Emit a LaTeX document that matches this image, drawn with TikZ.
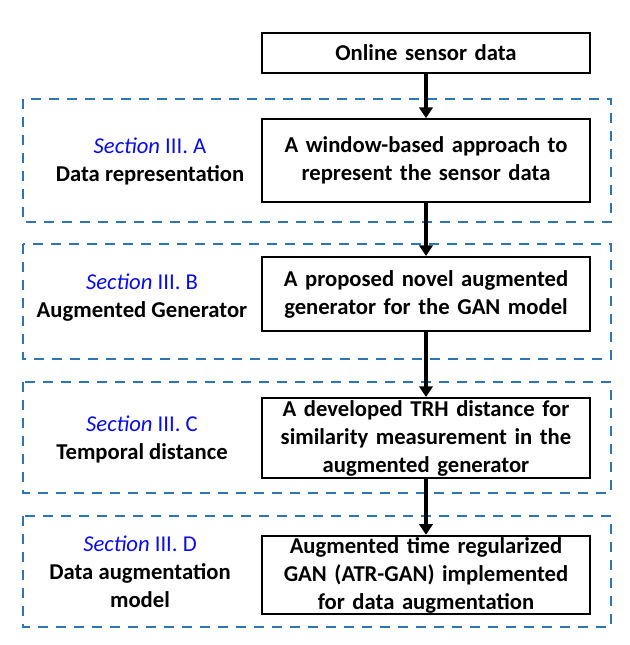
\documentclass[tikz,border=0pt]{standalone}
\usepackage{fontspec}
\setmainfont{Carlito}
\usetikzlibrary{arrows.meta}
\definecolor{dashblue}{RGB}{46,117,182}
\definecolor{secblue}{RGB}{10,10,240}
\newcommand{\secref}[1]{{\color{secblue}\textit{Section} III. #1}}

\begin{document}
\begin{tikzpicture}[x=0.75pt,y=-0.75pt]
        \tikzset{stepbox/.style = {shape=rectangle,draw,line width=1.5pt,minimum width=246pt,text width=240pt,align=center,font=\fontsize{17}{21}\selectfont\bfseries,inner sep=1pt}}
        \tikzset{label/.style = {align=center,font=\fontsize{17}{21}\selectfont}}
        \tikzset{group/.style = {draw=dashblue,line width=2.2pt,dash pattern=on 7.5pt off 6pt}}
        \tikzset{edge/.style = {-{Triangle[length=8pt,width=10pt]},line width=3pt}}
        \useasboundingbox (0,0) rectangle (629,645);

        \draw[group] (23,99) rectangle (611,222);
        \draw[group] (23,244) rectangle (611,359);
        \draw[group] (23,382) rectangle (611,493);
        \draw[group] (23,516) rectangle (611,627);

        \node[stepbox,minimum height=30pt] (input) at (426,53) {Online sensor data};
        \node[stepbox,minimum height=62pt] (repr) at (426,160.5) {A window-based approach to\\represent the sensor data};
        \node[stepbox,minimum height=55.5pt] (gen) at (426,294) {A proposed novel augmented\\generator for the GAN model};
        \node[stepbox,minimum height=60pt] (dist) at (426,438) {A developed TRH distance for\\similarity measurement in the\\augmented generator};
        \node[stepbox,minimum height=55.5pt] (atrgan) at (426,575) {Augmented time regularized\\GAN (ATR-GAN) implemented\\for data augmentation};

        \node[label] (secA) at (150,161) {\secref{A}\\\textbf{Data representation}};
        \node[label] (secB) at (142,298) {\secref{B}\\\textbf{Augmented Generator}};
        \node[label] (secC) at (142,439) {\secref{C}\\\textbf{Temporal distance}};
        \node[label] (secD) at (140,572) {\secref{D}\\\textbf{Data augmentation}\\\textbf{model}};

        \draw[edge] (input) -- (repr);
        \draw[edge] (repr) -- (gen);
        \draw[edge] (gen) -- (dist);
        \draw[edge] (dist) -- (atrgan);
    \end{tikzpicture}
\end{document}
